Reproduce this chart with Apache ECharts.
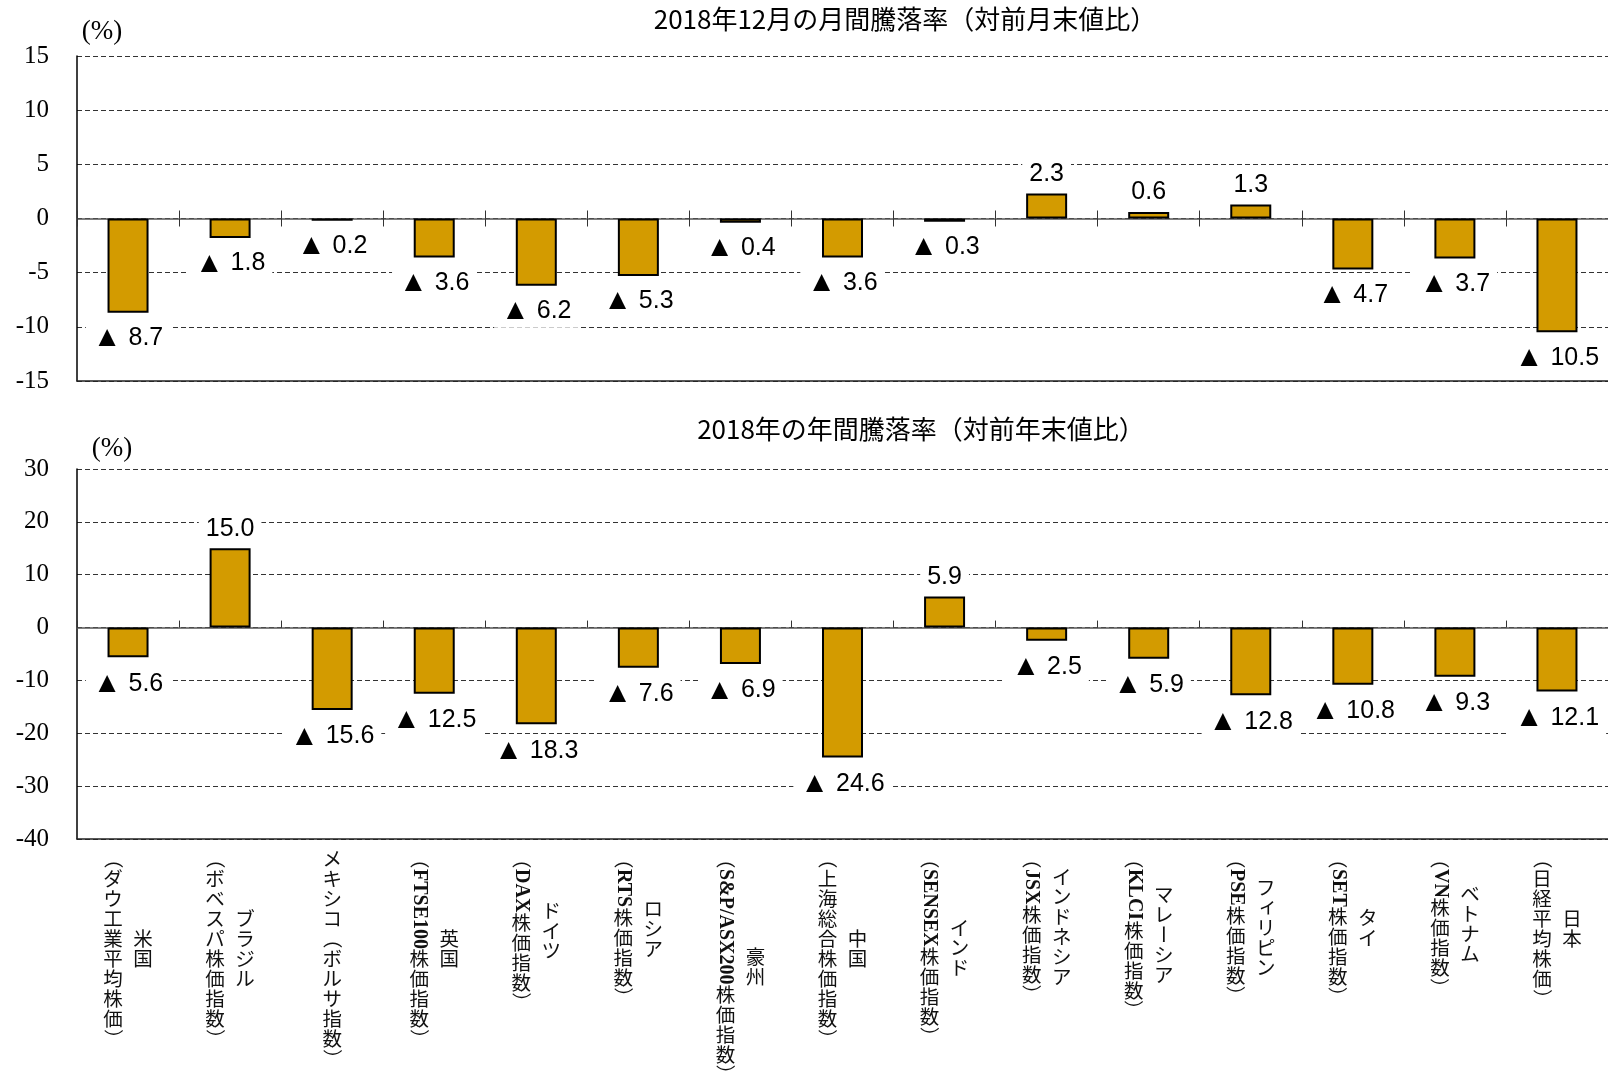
<!DOCTYPE html>
<html>
<head>
<meta charset="utf-8">
<script src="https://cdn.jsdelivr.net/npm/echarts@6/dist/echarts.min.js"></script>
<style>
  html, body { margin: 0; padding: 0; background: #ffffff; }
  #chart { width: 1608px; height: 1080px; }
</style>
</head>
<body>
<div id="chart"></div>
<script>
// ---- data ----
const countries = ['米国', 'ブラジル', 'メキシコ（ボルサ指数）', '英国', 'ドイツ', 'ロシア', '豪州', '中国',
  'インド', 'インドネシア', 'マレーシア', 'フィリピン', 'タイ', 'ベトナム', '日本'];
const indexNames = ['（ダウ工業平均株価）', '（ボベスパ株価指数）', '', '（FTSE100株価指数）', '（DAX株価指数）',
  '（RTS株価指数）', '（S&P/ASX200株価指数）', '（上海総合株価指数）', '（SENSEX株価指数）', '（JSX株価指数）',
  '（KLCI株価指数）', '（PSE株価指数）', '（SET株価指数）', '（VN株価指数）', '（日経平均株価）'];
const monthlyChange = [-8.7, -1.8, -0.2, -3.6, -6.2, -5.3, -0.4, -3.6, -0.3, 2.3, 0.6, 1.3, -4.7, -3.7, -10.5];
const annualChange = [-5.6, 15.0, -15.6, -12.5, -18.3, -7.6, -6.9, -24.6, 5.9, -2.5, -5.9, -12.8, -10.8, -9.3, -12.1];
const monthlyTicks = { min: -15, max: 15, interval: 5 };
const annualTicks = { min: -40, max: 30, interval: 10 };
const monthlyTitle = '2018年12月の月間騰落率（対前月末値比）';
const annualTitle = '2018年の年間騰落率（対前年末値比）';
const unitLabel = '(%)';

// ---- styling ----
const CJK = '"Noto Sans CJK JP", "Noto Sans CJK SC", sans-serif';
const SANS = '"Liberation Sans", Arial, sans-serif';
const SERIF = '"Liberation Serif", "Times New Roman", serif';
const BAR_COLOR = '#D39B00';
const CAT_FONT = 19.5;      // vertical category text size
const CAT_ADV = 20;         // vertical advance per upright glyph
const LATIN_FONT = 20;      // rotated latin runs inside vertical text
const COL_GAP = 30;         // distance between vertical text columns

const measureCtx = document.createElement('canvas').getContext('2d');
function latinWidth(s) {
  measureCtx.font = 'bold ' + LATIN_FONT + 'px ' + SERIF;
  return measureCtx.measureText(s).width;
}

// split a vertical label into upright glyphs, rotated glyphs and latin runs
function tokenize(text) {
  const out = [];
  const re = /[A-Za-z0-9&\/]+|./gu;
  let m;
  while ((m = re.exec(text)) !== null) {
    const t = m[0];
    if (/^[A-Za-z0-9&\/]+$/.test(t)) out.push({ kind: 'latin', text: t, adv: latinWidth(t) });
    else if ('（）ー'.includes(t)) out.push({ kind: 'rot', text: t, adv: CAT_ADV });
    else out.push({ kind: 'cjk', text: t, adv: CAT_ADV });
  }
  return out;
}
function columnLength(tokens) {
  return tokens.reduce((s, t) => s + t.adv, 0);
}

function renderCategoryLabel(params, api) {
  const i = api.value(0);
  const base = api.coord([i, annualTicks.min]);
  const cols = [countries[i], indexNames[i]].filter(s => s).map(tokenize);
  const lens = cols.map(columnLength);
  const blockH = Math.max.apply(null, lens);
  const top = base[1] + 10;
  const children = [];
  cols.forEach((tokens, c) => {
    const x = base[0] + COL_GAP * ((cols.length - 1) / 2 - c);
    let y = top + (blockH - lens[c]) / 2;
    tokens.forEach(t => {
      if (t.kind === 'cjk') {
        const small = 'ッィャュョァ'.includes(t.text);
        children.push({
          type: 'text', x: x + (small ? CAT_FONT * 0.12 : 0), y: y + t.adv / 2 - (small ? CAT_FONT * 0.1 : 0),
          style: { text: t.text, fontSize: CAT_FONT, fontFamily: CJK, fill: '#111',
            align: 'center', verticalAlign: 'middle', textAlign: 'center', textVerticalAlign: 'middle' }
        });
      } else {
        const latin = t.kind === 'latin';
        children.push({
          type: 'text', x: x, y: y, rotation: -Math.PI / 2,
          style: { text: t.text, fontSize: latin ? LATIN_FONT : CAT_FONT,
            fontFamily: latin ? SERIF : CJK, fontWeight: latin ? 'bold' : 'normal', fill: '#111',
            align: 'left', verticalAlign: 'middle', textAlign: 'left', textVerticalAlign: 'middle' }
        });
      }
      y += t.adv;
    });
  });
  return { type: 'group', children: children };
}

function valueLabel(p) {
  const v = p.value;
  return v < 0 ? '{t|▲} ' + Math.abs(v).toFixed(1) : v.toFixed(1);
}
function barItems(values, negDist, posDist) {
  return values.map(v => ({
    value: v,
    label: { position: v < 0 ? 'bottom' : 'top', distance: v < 0 ? negDist : posDist }
  }));
}

const barStyle = {
  type: 'bar', barWidth: 41,
  itemStyle: { color: BAR_COLOR, borderColor: '#000', borderWidth: 2 },
  label: {
    show: true, formatter: valueLabel, fontSize: 25, fontFamily: SANS, color: '#000',
    backgroundColor: '#fff', padding: [2, 7],
    rich: { t: { fontSize: 29, fontFamily: SANS, color: '#000' } }
  },
  emphasis: { disabled: true }
};

// category axis sitting on the zero line of the given value axis
function zeroAxis(gridIndex, zeroOf, inside, showLine, tickLen) {
  return {
    type: 'category', gridIndex: gridIndex, data: countries, position: 'bottom', offset: 0,
    axisLine: { show: showLine, onZero: true, onZeroAxisIndex: zeroOf, lineStyle: { color: '#555', width: 1.5 } },
    axisTick: { show: true, inside: inside, interval: 0, length: tickLen, lineStyle: { color: '#333', width: 1 } },
    axisLabel: { show: false, interval: 0 }, splitLine: { show: false }
  };
}
// solid floor line of a plot
function floorAxis(gridIndex) {
  return {
    type: 'category', gridIndex: gridIndex, data: countries, position: 'bottom', offset: 0,
    axisLine: { show: true, onZero: false, lineStyle: { color: '#222', width: 1.5 } },
    axisTick: { show: false }, axisLabel: { show: false }, splitLine: { show: false }
  };
}
function valueAxis(gridIndex, ticks, visible) {
  return {
    type: 'value', gridIndex: gridIndex, min: ticks.min, max: ticks.max, interval: ticks.interval,
    show: visible,
    axisLine: { show: true, lineStyle: { color: '#000', width: 1.5 } },
    axisTick: { show: false },
    axisLabel: { fontSize: 25, fontFamily: SERIF, color: '#000', margin: 28 },
    splitLine: { show: visible, lineStyle: { color: '#333', width: 1, type: [5, 3] } }
  };
}

const chart = echarts.init(document.getElementById('chart'));
chart.setOption({
  animation: false,
  backgroundColor: '#fff',
  grid: [
    { left: 77, top: 56, width: 1532, height: 325 },
    { left: 77, top: 469, width: 1532, height: 370 }
  ],
  xAxis: [
    zeroAxis(0, 0, false, true, 8),   // ticks pointing down
    zeroAxis(0, 2, true, false, 8),   // ticks pointing up
    floorAxis(0),
    zeroAxis(1, 1, true, true, 7),
    floorAxis(1)
  ],
  yAxis: [
    valueAxis(0, monthlyTicks, true),
    valueAxis(1, annualTicks, true),
    valueAxis(0, monthlyTicks, false)
  ],
  graphic: [
    { type: 'text', x: 905, y: 19, style: { text: monthlyTitle, fontSize: 26, fontFamily: CJK, fill: '#000',
      align: 'center', verticalAlign: 'middle', textAlign: 'center', textVerticalAlign: 'middle' } },
    { type: 'text', x: 921, y: 429, style: { text: annualTitle, fontSize: 26, fontFamily: CJK, fill: '#000',
      align: 'center', verticalAlign: 'middle', textAlign: 'center', textVerticalAlign: 'middle' } },
    { type: 'text', x: 102, y: 32, style: { text: unitLabel, fontSize: 27, fontFamily: SERIF, fill: '#000',
      align: 'center', verticalAlign: 'middle', textAlign: 'center', textVerticalAlign: 'middle' } },
    { type: 'text', x: 112, y: 449, style: { text: unitLabel, fontSize: 27, fontFamily: SERIF, fill: '#000',
      align: 'center', verticalAlign: 'middle', textAlign: 'center', textVerticalAlign: 'middle' } }
  ],
  series: [
    Object.assign({}, barStyle, { name: '月間騰落率', xAxisIndex: 0, yAxisIndex: 0, data: barItems(monthlyChange, 9, 5) }),
    Object.assign({}, barStyle, { name: '年間騰落率', xAxisIndex: 3, yAxisIndex: 1, data: barItems(annualChange, 10, 5) }),
    {
      type: 'custom', name: '銘柄', xAxisIndex: 3, yAxisIndex: 1, silent: true, clip: false,
      data: countries.map((c, i) => [i]), encode: { x: 0 },
      renderItem: renderCategoryLabel
    }
  ]
});
</script>
</body>
</html>
